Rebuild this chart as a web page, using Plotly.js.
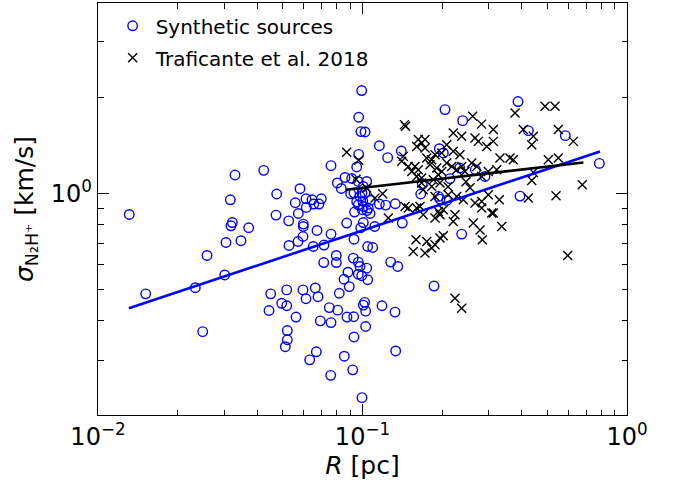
<!DOCTYPE html>
<html>
<head>
<meta charset="utf-8">
<script src="https://cdn.plot.ly/plotly-3.0.1.min.js"></script>
<style>html,body{margin:0;padding:0;background:#fff;}#chart{width:686px;height:481px;}</style>
</head>
<body>
<div id="chart"></div>
<script>
// Synthetic sources: radius R [pc] and velocity dispersion sigma [km/s]
const synthR = [0.01313,0.01515,0.02333,0.02488,0.02583,0.03013,0.03047,0.03472,0.03220,0.03183,
  0.03713,0.03164,0.03296,0.04232,0.04738,0.04710,0.05260,0.05274,0.05571,0.05719,
  0.05704,0.05804,0.05974,0.05974,0.05957,0.06115,0.06444,0.06540,0.06848,0.06987,
  0.06131,0.06730,0.06516,0.07154,0.07603,0.07603,0.08031,0.08314,0.08586,0.09103,
  0.08715,0.09287,0.09508,0.09674,0.09931,0.09674,0.09870,0.1022,0.09845,0.1046,
  0.1093,0.09640,0.1037,0.1007,0.09024,0.09287,0.09784,0.09956,0.1022,0.1068,
  0.1002,0.09508,0.0964,0.1007,0.1052,0.09328,0.09982,0.1040,0.1068,0.1007,
  0.1112,0.1158,0.1224,0.1330,0.1414,0.1158,0.1245,0.1402,0.1952,0.2021,
  0.2051,0.2392,0.2330,0.2670,0.2905,0.2142,0.1683,0.1660,0.1935,0.1963,
  0.2082,0.2371,0.3872,0.4236,0.5845,0.7860,0.3940,
  0.07961,0.07961,0.07135,0.09230,0.0964,0.09784,0.0964,0.09931,0.1037,0.1046,
  0.08814,0.08512,0.08914,0.08170,0.04497,0.04949,0.05170,0.05170,0.04431,0.05605,
  0.05957,0.06115,0.06631,0.06789,0.07489,0.08059,0.06927,0.07603,0.08737,0.09261,
  0.09287,0.1019,0.1007,0.1028,0.1028,0.05197,0.05197,0.05106,0.06689,0.06315,
  0.08534,0.09183,0.07583,0.09956,0.1278,0.1359,0.1185,0.1327,0.1864,0.1335];
const synthSigma = [0.861,0.485,0.507,0.369,0.640,0.556,0.703,0.712,0.812,0.793,
  0.782,0.957,1.145,1.184,0.998,0.857,0.822,0.688,0.937,0.867,
  0.708,1.037,0.803,0.789,0.734,0.964,0.957,0.928,0.928,0.964,
  0.906,0.767,0.683,0.690,1.225,0.747,1.081,1.039,1.125,1.117,
  0.809,0.720,1.213,1.329,2.108,1.738,1.567,1.563,0.782,0.683,
  0.678,1.093,1.093,1.054,1.000,1.005,0.981,1.005,1.005,0.953,
  0.948,0.944,0.923,0.912,0.902,0.876,0.891,0.886,0.867,0.812,
  0.789,0.928,0.921,0.930,0.809,1.415,1.298,1.362,1.385,1.343,
  1.837,1.696,1.205,1.190,1.133,1.115,1.075,0.998,0.981,0.962,
  0.953,0.747,1.947,1.578,1.522,1.245,0.983,
  0.640,0.608,0.608,0.628,0.610,0.591,0.559,0.553,0.584,0.537,
  0.567,0.539,0.511,0.487,0.485,0.453,0.445,0.499,0.430,0.410,
  0.499,0.468,0.506,0.475,0.439,0.431,0.399,0.394,0.410,0.411,
  0.355,0.456,0.447,0.428,0.383,0.372,0.348,0.331,0.319,0.301,
  0.309,0.280,0.269,0.229,0.610,0.591,0.445,0.425,0.513,0.321];

// Traficante et al. 2018
const trafR = [0.08715,0.09674,0.09449,0.1037,0.1115,0.1192,0.1252,0.1441,0.1454,0.1427,
  0.1407,0.1490,0.1579,0.1535,0.1626,0.1603,0.1674,0.1626,0.1674,0.1723,
  0.1603,0.1723,0.1749,0.1826,0.1880,0.1800,0.1908,0.1993,0.1935,0.2082,
  0.2204,0.1993,0.2336,0.2204,0.2371,0.2610,0.2818,0.2663,0.2741,0.2949,
  0.2082,0.2174,0.2270,0.2371,0.2440,0.2587,0.2704,0.2823,0.2990,0.1852,
  0.1963,0.1826,0.1674,0.1697,0.1880,0.2110,0.2270,0.2405,0.1448,0.1490,
  0.2823,0.2990,0.1650,0.1603,0.1697,0.1880,0.1963,0.1935,0.2021,0.2237,
  0.2204,0.2663,0.2823,0.3080,0.2623,0.2782,0.2837,0.1593,0.1749,0.1880,
  0.1963,0.2021,0.1556,0.1723,0.1826,0.2237,0.2371,0.3360,0.3123,0.3123,
  0.3773,0.4898,0.5343,0.4054,0.4424,0.4363,0.5499,0.6266,0.3310,0.3612,
  0.3716,0.5041,0.5499,0.3218,0.4424,0.4363,0.6776,0.3290,0.3123,0.4236,
  0.5390,0.5968,0.2106,0.2550,0.2462];
const trafSigma = [1.349,1.273,1.111,1.042,0.969,1.000,0.839,1.648,1.630,1.310,
  1.264,1.218,1.218,1.175,1.190,1.133,1.120,1.479,1.443,1.479,
  1.408,1.392,1.295,1.279,1.326,1.234,1.205,1.175,1.147,1.426,
  1.359,1.343,1.326,1.552,1.514,1.750,1.654,1.497,1.460,1.408,
  1.249,1.218,1.190,1.218,1.175,1.249,1.218,1.133,1.175,1.107,
  1.081,1.054,1.081,1.029,0.981,0.993,0.981,0.957,0.912,0.902,
  0.946,0.993,0.912,0.902,0.859,0.839,0.859,0.880,0.891,0.859,
  0.818,0.935,0.902,0.870,0.809,0.770,0.717,0.717,0.708,0.691,
  0.726,0.738,0.659,0.651,0.675,0.470,0.437,0.789,1.590,1.460,
  1.791,1.882,1.882,1.590,1.514,1.426,1.590,1.460,1.295,1.295,
  1.279,1.279,1.295,1.190,1.167,1.101,1.067,0.957,0.870,0.969,
  0.986,0.640,1.052,1.044,1.091];

// Power-law fits (end points)
const fitSynthR = [0.01309, 0.791];
const fitSynthSigma = [0.437, 1.358];
const fitTrafR = [0.0866, 0.684];
const fitTrafSigma = [1.029, 1.254];

const xTickVals = [0.01, 0.1, 1];
const xTickText = ['10<sup>−2</sup>', '10<sup>−1</sup>', '10<sup>0</sup>'];
const xMinorVals = [0.02,0.03,0.04,0.05,0.06,0.07,0.08,0.09,0.2,0.3,0.4,0.5,0.6,0.7,0.8,0.9];
const yTickVals = [1];
const yTickText = ['10<sup>0</sup>'];
const yMinorVals = [0.3,0.4,0.5,0.6,0.7,0.8,0.9,2,3];

const font = 'DejaVu Sans, sans-serif';

const traces = [
  {x: synthR, y: synthSigma, type: 'scatter', mode: 'markers', name: 'Synthetic sources', legendgroup: 'a',
   marker: {symbol: 'circle-open', size: 9.5, color: '#0000ff', line: {color: '#0000ff', width: 1.4}}},
  {x: trafR, y: trafSigma, type: 'scatter', mode: 'markers', name: 'Traficante et al. 2018', legendgroup: 'b',
   marker: {symbol: 'x-thin', size: 9, color: '#000000', line: {color: '#000000', width: 1.4}}},
  {x: fitSynthR, y: fitSynthSigma, type: 'scatter', mode: 'lines', showlegend: false,
   line: {color: '#0000ff', width: 2.6}},
  {x: fitTrafR, y: fitTrafSigma, type: 'scatter', mode: 'lines', showlegend: false,
   line: {color: '#000000', width: 2.6}}
];

const axisCommon = {
  type: 'log', showgrid: false, zeroline: false, showline: true, linecolor: '#000', linewidth: 1.3,
  mirror: 'allticks', ticks: 'inside', ticklen: 11, tickwidth: 1.1, tickcolor: '#000',
  tickmode: 'array', tickfont: {family: font, size: 24, color: '#000'}
};

const layout = {
  width: 686, height: 481,
  margin: {l: 98, r: 59, t: 3, b: 66},
  paper_bgcolor: '#fff', plot_bgcolor: '#fff',
  font: {family: font, color: '#000'},
  xaxis: Object.assign({}, axisCommon, {
    range: [-2, 0], tickvals: xTickVals, ticktext: xTickText,
    minor: {ticks: 'inside', ticklen: 5.5, tickwidth: 1, tickcolor: '#000', tickmode: 'array', tickvals: xMinorVals},
    title: {text: '<i>R</i> [pc]', font: {family: font, size: 25, color: '#000'}, standoff: 4}
  }),
  yaxis: Object.assign({}, axisCommon, {
    range: [Math.log10(0.202), Math.log10(3.97)], tickvals: yTickVals, ticktext: yTickText,
    minor: {ticks: 'inside', ticklen: 5.5, tickwidth: 1, tickcolor: '#000', tickmode: 'array', tickvals: yMinorVals},
    title: {text: '<i>σ</i><sub>N₂H⁺</sub> [km/s]', font: {family: font, size: 25, color: '#000'}, standoff: 10}
  }),
  legend: {x: 0.022, y: 0.992, xanchor: 'left', yanchor: 'top', bgcolor: 'rgba(0,0,0,0)',
    itemwidth: 36, tracegroupgap: 3,
    font: {family: font, size: 20, color: '#000'}},
  showlegend: true
};

Plotly.newPlot('chart', traces, layout, {displayModeBar: false, staticPlot: true});
</script>
</body>
</html>
